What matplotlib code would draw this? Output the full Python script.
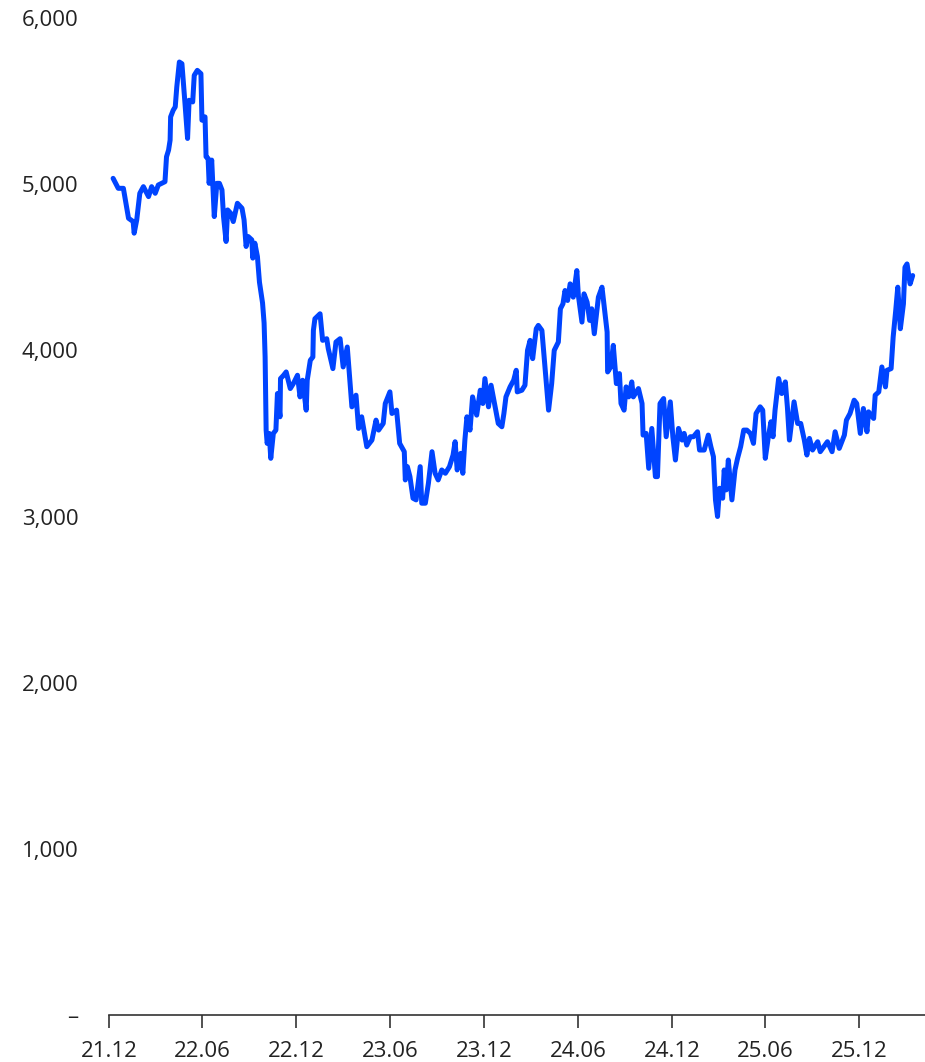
import pandas as pd
import matplotlib.pyplot as plt
import matplotlib.ticker as mticker

plt.rcParams['font.family'] = ['Open Sans', 'DejaVu Sans']

# 2021-12 ~ 2022
dates_22 = ["2021-12-09", "2021-12-19", "2021-12-29", "2022-01-08", "2022-01-17", "2022-01-19",
            "2022-01-24", "2022-01-30", "2022-02-06", "2022-02-16", "2022-02-22", "2022-03-01",
            "2022-03-07", "2022-03-20", "2022-03-23", "2022-03-27", "2022-03-30", "2022-03-31",
            "2022-04-05", "2022-04-09", "2022-04-12", "2022-04-17", "2022-04-22", "2022-04-28",
            "2022-05-03", "2022-05-06", "2022-05-13", "2022-05-16", "2022-05-22", "2022-05-29",
            "2022-05-31", "2022-06-06", "2022-06-08", "2022-06-12", "2022-06-14", "2022-06-19",
            "2022-06-24", "2022-06-29", "2022-07-04", "2022-07-09", "2022-07-12", "2022-07-17",
            "2022-07-20", "2022-07-26", "2022-07-31", "2022-08-08", "2022-08-17", "2022-08-21",
            "2022-08-25", "2022-08-29", "2022-09-05", "2022-09-07", "2022-09-11", "2022-09-16",
            "2022-09-20", "2022-09-26", "2022-09-29", "2022-10-01", "2022-10-03", "2022-10-05",
            "2022-10-09", "2022-10-12", "2022-10-17", "2022-10-22", "2022-10-25", "2022-10-30",
            "2022-10-31", "2022-11-06", "2022-11-11", "2022-11-19", "2022-11-25", "2022-12-03",
            "2022-12-08", "2022-12-13", "2022-12-20", "2022-12-22", "2022-12-28"]
values_22 = [5035, 4975, 4975, 4795, 4775, 4705,
             4785, 4945, 4985, 4925, 4985, 4945,
             4995, 5015, 5165, 5205, 5265, 5405,
             5445, 5465, 5585, 5735, 5725, 5485,
             5275, 5505, 5495, 5655, 5685, 5665,
             5385, 5405, 5165, 5155, 5005, 5145,
             4805, 5005, 5005, 4965, 4805, 4655,
             4845, 4825, 4775, 4885, 4855, 4785,
             4625, 4685, 4665, 4555, 4645, 4565,
             4410, 4285, 4165, 3960, 3520, 3440,
             3500, 3350, 3500, 3520, 3740, 3600,
             3830, 3850, 3870, 3770, 3800, 3850,
             3720, 3820, 3640, 3820, 3940]

# 2023
dates_23 = ["2023-01-02", "2023-01-03", "2023-01-06", "2023-01-16", "2023-01-21", "2023-01-29",
            "2023-02-01", "2023-02-10", "2023-02-16", "2023-02-24", "2023-03-02", "2023-03-10",
            "2023-03-19", "2023-03-27", "2023-04-01", "2023-04-07", "2023-04-17", "2023-04-27",
            "2023-05-05", "2023-05-10", "2023-05-19", "2023-05-23", "2023-06-01", "2023-06-05",
            "2023-06-14", "2023-06-20", "2023-06-29", "2023-07-01", "2023-07-05", "2023-07-10",
            "2023-07-16", "2023-07-22", "2023-07-30", "2023-08-02", "2023-08-09", "2023-08-15",
            "2023-08-22", "2023-08-28", "2023-09-03", "2023-09-10", "2023-09-17", "2023-09-25",
            "2023-10-02", "2023-10-06", "2023-10-10", "2023-10-17", "2023-10-21", "2023-10-25",
            "2023-10-29", "2023-11-04", "2023-11-09", "2023-11-17", "2023-11-24", "2023-11-29",
            "2023-12-03", "2023-12-10", "2023-12-15", "2023-12-21", "2023-12-29"]
values_23 = [3960, 4120, 4190, 4220, 4060, 4070,
             4010, 3890, 4050, 4070, 3900, 4020,
             3660, 3730, 3530, 3600, 3420, 3460,
             3580, 3520, 3560, 3680, 3750, 3620,
             3640, 3440, 3390, 3220, 3300, 3240,
             3110, 3100, 3300, 3080, 3080, 3200,
             3390, 3260, 3220, 3280, 3260, 3300,
             3370, 3450, 3280, 3380, 3260, 3460,
             3600, 3520, 3720, 3610, 3760, 3680,
             3830, 3660, 3790, 3690, 3560]

# 2024
dates_24 = ["2024-01-05", "2024-01-09", "2024-01-13", "2024-01-21", "2024-01-28", "2024-02-02",
            "2024-02-04", "2024-02-13", "2024-02-19", "2024-02-24", "2024-02-29", "2024-03-05",
            "2024-03-12", "2024-03-16", "2024-03-23", "2024-03-29", "2024-04-05", "2024-04-11",
            "2024-04-16", "2024-04-24", "2024-04-28", "2024-05-03", "2024-05-07", "2024-05-12",
            "2024-05-17", "2024-05-23", "2024-05-30", "2024-06-02", "2024-06-09", "2024-06-13",
            "2024-06-19", "2024-06-24", "2024-06-28", "2024-07-03", "2024-07-11", "2024-07-18",
            "2024-07-28", "2024-07-29", "2024-08-04", "2024-08-09", "2024-08-15", "2024-08-21",
            "2024-08-24", "2024-08-30", "2024-09-03", "2024-09-08", "2024-09-14", "2024-09-17",
            "2024-09-27", "2024-10-04", "2024-10-06", "2024-10-12", "2024-10-17", "2024-10-23",
            "2024-10-30", "2024-11-03", "2024-11-08", "2024-11-15", "2024-11-20", "2024-11-28",
            "2024-12-03", "2024-12-08", "2024-12-14", "2024-12-21", "2024-12-25", "2024-12-30"]
values_24 = [3540, 3620, 3720, 3780, 3820, 3880,
             3750, 3760, 3790, 4000, 4060, 3950,
             4130, 4150, 4120, 3900, 3640, 3800,
             4000, 4050, 4250, 4280, 4360, 4300,
             4400, 4320, 4480, 4330, 4170, 4340,
             4290, 4180, 4250, 4100, 4320, 4380,
             4110, 3870, 3900, 4030, 3800, 3860,
             3680, 3640, 3780, 3720, 3810, 3720,
             3770, 3680, 3490, 3500, 3290, 3530,
             3240, 3240, 3680, 3710, 3480, 3690,
             3480, 3340, 3530, 3460, 3500, 3430]

# 2025 ~ 2026
dates_25 = ["2025-01-06", "2025-01-12", "2025-01-20", "2025-01-24", "2025-02-02", "2025-02-10",
            "2025-02-15", "2025-02-20", "2025-02-24", "2025-02-28", "2025-03-04", "2025-03-10",
            "2025-03-13", "2025-03-17", "2025-03-21", "2025-03-28", "2025-04-03", "2025-04-08",
            "2025-04-14", "2025-04-20", "2025-04-26", "2025-05-03", "2025-05-09", "2025-05-14",
            "2025-05-22", "2025-05-27", "2025-06-01", "2025-06-07", "2025-06-12", "2025-06-16",
            "2025-06-20", "2025-06-27", "2025-07-03", "2025-07-10", "2025-07-14", "2025-07-18",
            "2025-07-27", "2025-08-03", "2025-08-09", "2025-08-16", "2025-08-21", "2025-08-26",
            "2025-09-01", "2025-09-11", "2025-09-16", "2025-09-30", "2025-10-09", "2025-10-15",
            "2025-10-23", "2025-11-02", "2025-11-06", "2025-11-13", "2025-11-21", "2025-11-26",
            "2025-12-03", "2025-12-09", "2025-12-16", "2025-12-19", "2025-12-29", "2026-01-01",
            "2026-01-08", "2026-01-14", "2026-01-21", "2026-01-24", "2026-02-01", "2026-02-05",
            "2026-02-10", "2026-02-14", "2026-02-19", "2026-02-25", "2026-02-28", "2026-03-04",
            "2026-03-10", "2026-03-15"]
values_25 = [3480, 3480, 3510, 3400, 3400, 3490,
             3420, 3360, 3100, 3000, 3170, 3110,
             3280, 3160, 3340, 3100, 3280, 3350,
             3420, 3520, 3520, 3500, 3440, 3620,
             3660, 3640, 3350, 3480, 3570, 3480,
             3640, 3830, 3740, 3810, 3660, 3460,
             3690, 3560, 3560, 3460, 3370, 3470,
             3400, 3450, 3390, 3450, 3390, 3510,
             3410, 3490, 3580, 3620, 3700, 3680,
             3500, 3650, 3510, 3630, 3590, 3730,
             3750, 3900, 3780, 3880, 3890, 4080,
             4240, 4380, 4130, 4280, 4500, 4520,
             4400, 4450]

dates = pd.to_datetime(dates_22 + dates_23 + dates_24 + dates_25)
values = values_22 + values_23 + values_24 + values_25

tick_dates = pd.to_datetime(["2021-12-01", "2022-06-01", "2022-12-01", "2023-06-01", "2023-12-01",
                             "2024-06-01", "2024-12-01", "2025-06-01", "2025-12-01"])
tick_labels = ["21.12", "22.06", "22.12", "23.06", "23.12", "24.06", "24.12", "25.06", "25.12"]

fig = plt.figure(figsize=(9.25, 10.62), dpi=100)
ax = fig.add_axes([109 / 925, 47 / 1062, 1 - 109 / 925, 997 / 1062])

ax.plot(dates, values, color='#0044FF', linewidth=3.6, solid_joinstyle='round', solid_capstyle='round')

ax.set_xlim(pd.Timestamp("2021-12-01"), pd.Timestamp("2026-04-08"))
ax.set_ylim(0, 6000)
ax.set_yticks([0, 1000, 2000, 3000, 4000, 5000, 6000])
ax.yaxis.set_major_formatter(mticker.FuncFormatter(lambda v, p: "–" if v == 0 else f"{int(v):,}"))
ax.set_xticks(tick_dates)
ax.set_xticklabels(tick_labels)

for s in ['top', 'right', 'left']:
    ax.spines[s].set_visible(False)
ax.spines['bottom'].set_color('#333333')
ax.spines['bottom'].set_linewidth(1.2)
ax.tick_params(axis='y', length=0, pad=22, labelsize=16, labelcolor='#222222')
ax.tick_params(axis='x', length=9, width=1.2, color='#333333', pad=10, labelsize=16, labelcolor='#222222')

plt.savefig("out.png", dpi=100)
